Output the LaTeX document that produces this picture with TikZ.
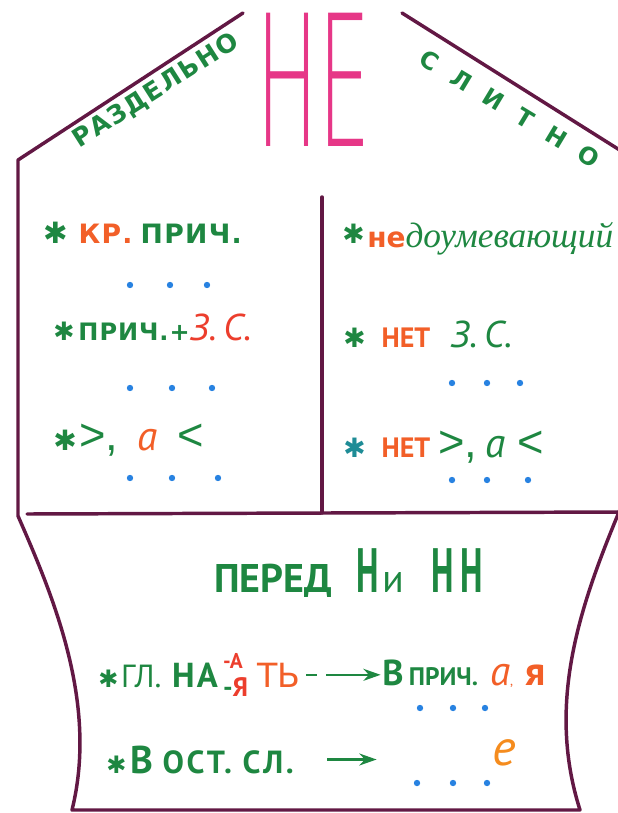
\documentclass[tikz,border=0pt]{standalone}
\usepackage{fontspec}
\usepackage{graphicx}
\setmainfont{PT Sans}
\newfontfamily\dvs{DejaVu Sans}
\newfontfamily\lser{Liberation Serif}
\newfontfamily\lsans{Liberation Sans}
\IfFontExistsTF{DejaVu Sans ExtraLight}{\newfontfamily\thinf{DejaVu Sans ExtraLight}}{%
 \IfFontExistsTF{Fira Sans Light}{\newfontfamily\thinf{Fira Sans Light}}{%
  \IfFontExistsTF{Lato Light}{\newfontfamily\thinf{Lato Light}}{%
    \IfFontExistsTF{Open Sans Light}{\newfontfamily\thinf{Open Sans Light}}{%
      \newfontfamily\thinf{Liberation Sans}}}}}
\usetikzlibrary{arrows.meta, positioning}

\definecolor{frameC}{RGB}{98,24,68}
\definecolor{grnC}{RGB}{30,135,65}
\definecolor{orgC}{RGB}{242,95,40}
\definecolor{redC}{RGB}{236,62,45}
\definecolor{ylwC}{RGB}{245,140,30}
\definecolor{pinkC}{RGB}{230,55,135}
\definecolor{dotC}{RGB}{40,130,225}
\definecolor{zvC}{RGB}{30,140,150}

\newcommand{\fsz}[1]{\fontsize{#1}{#1}\selectfont}
\newcommand{\zv}[1][grnC]{{\color{#1}\dvs ✱}}
\newcommand{\uzk}[1]{\scalebox{0.55}[1]{#1}}

\tikzset{
  frame/.style={draw=frameC, line width=2.6pt, line cap=round, line join=round},
  txt/.style={inner sep=0pt, anchor=base west, text=grnC},
  roof/.style={inner sep=0pt, anchor=center, text=grnC},
  pnt/.style={fill=dotC},
  arr/.style={draw=grnC, line width=1.8pt, -{Stealth[length=13pt,width=9pt]}},
}

\begin{document}
\begin{tikzpicture}[x=0.75pt, y=-0.75pt]
\useasboundingbox (0,0) rectangle (617,813);

% 外枠
\draw[frame] (243,13) -- (18,160) -- (18,516)
  .. controls (55,600) and (98,705) .. (72,810) -- (580,810)
  .. controls (545,700) and (582,600) .. (624,500);
\draw[frame] (402,13) -- (626,154);
\draw[frame] (27,514) -- (622,512);
\draw[frame] (322,197) -- (322,513);

% НЕ
\node[inner sep=0pt, anchor=north west, text=pinkC] (ne) at (256,13)
  {\thinf\fsz{140}\resizebox{86pt}{100pt}{НЕ}};

% 屋根の文字
\node[roof, rotate=32.5] (razd) at (156,91)
  {\dvs\bfseries\fsz{19}\addfontfeature{LetterSpace=6}РАЗДЕЛЬНО};
\node[roof, rotate=-31] (slit) at (510,109)
  {\dvs\bfseries\fsz{18}\addfontfeature{LetterSpace=75}СЛИТНО};

% 左のパネル
\node[txt] (kr) at (43,243)
  {\fsz{22}\zv\hspace{8pt}{\dvs\bfseries\fsz{20}\addfontfeature{LetterSpace=5}{\color{orgC}КР.}\hspace{6pt}ПРИЧ.}};
\node[txt] (pz) at (53,340)
  {\fsz{19}\zv\hspace{3pt}{\dvs\bfseries\fsz{18}\addfontfeature{LetterSpace=4}ПРИЧ.+}{\color{redC}\itshape\fsz{28}З.\kern5pt С.}};
\node[txt] (gtl) at (53,450)
  {\fsz{21}\zv\hspace{2pt}{\lsans\fsz{34}>,}\hspace{14pt}{\color{orgC}\itshape\fsz{31}а}\hspace{15pt}{\lsans\fsz{34}<}};

% 右のパネル
\node[txt] (nedo) at (342,247)
  {\fsz{20}\raisebox{3pt}{\zv}\hspace{2pt}{\color{orgC}\dvs\bfseries\fsz{21}не}{\lser\itshape\fsz{26.5}доумевающий}};
\node[txt] (net1) at (343,347)
  {\fsz{20}\zv\hspace{12pt}{\color{orgC}\bfseries\fsz{21}НЕТ}\hspace{15pt}{\itshape\fsz{28}З.\kern5pt С.}};
\node[txt] (net2) at (343,457)
  {\fsz{20}\zv[zvC]\hspace{12pt}{\color{orgC}\bfseries\fsz{21}НЕТ}\hspace{6pt}{\lsans\fsz{34}>,}\hspace{6pt}{\itshape\fsz{31}а}\hspace{9pt}{\lsans\fsz{34}<}};

% 下の部分
\node[txt] (pered) at (214,592)
  {\bfseries\fsz{30}ПЕРЕД\hspace{18pt}\fsz{47}\uzk{Н}\hspace{3pt}\mdseries\fsz{30}и\hspace{20pt}\bfseries\fsz{47}\uzk{Н}\hspace{5pt}\uzk{Н}};
\node[txt] (gl) at (98,687)
  {\fsz{18}\zv\hspace{2pt}{\fsz{24}ГЛ.}\hspace{8pt}{\bfseries\fsz{26}\addfontfeature{LetterSpace=6}НА}\hspace{4pt}\makebox[0pt][l]{\raisebox{14pt}{\color{redC}\bfseries\fsz{16}-А}}\raisebox{-7pt}{\bfseries\fsz{20}-{\color{redC}Я}}\hspace{7pt}{\color{orgC}\dvs\fsz{25}ТЬ}};
\node[txt] (pr) at (382,685)
  {{\bfseries\fsz{27}В}\hspace{4pt}{\bfseries\fsz{19}ПРИЧ.}\hspace{9pt}{\color{orgC}{\itshape\fsz{31}а},\hspace{9pt}{\bfseries\fsz{30}я}}};
\draw[arr, dash pattern=on 8pt off 7pt on 40pt, shorten <=4pt, shorten >=1pt] (gl.east) -- (gl.east -| pr.west);

\node[txt] (ost) at (106,773)
  {\fsz{18}\zv\hspace{3pt}{\bfseries\fsz{29}В}\hspace{7pt}{\bfseries\fsz{24}\addfontfeature{LetterSpace=8}ОСТ. СЛ.}};
\coordinate[right=62pt of ost.east] (ostend);
\draw[arr, shorten <=25pt] (ost.east) -- (ostend);
\node[txt] (ee) at (492,765) {\color{ylwC}\itshape\fsz{38}е};

% 点
\foreach \px/\py in {130/285, 170/285, 207/285, 130/388, 172/388, 212/388,
  130/478, 172/478, 218/478, 452/383, 487/383, 520/383, 452/480, 487/480, 528/480,
  420/708, 453/708, 485/708, 417/783, 453/783, 487/783}
  \fill[pnt] (\px,\py) circle (3.2);

\end{tikzpicture}
\end{document}
